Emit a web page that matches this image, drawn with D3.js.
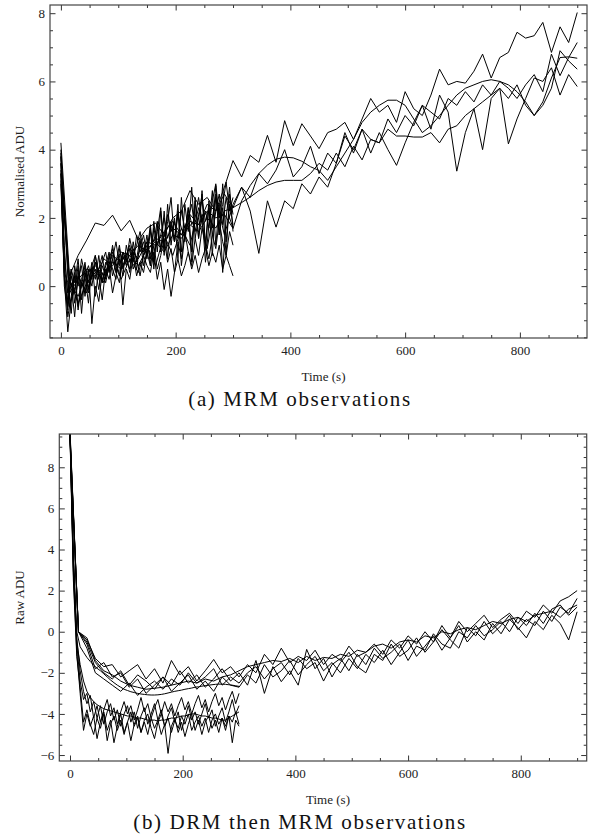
<!DOCTYPE html>
<html>
<head>
<meta charset="utf-8">
<script src="https://cdn.jsdelivr.net/npm/d3@7"></script>
<style>
body { margin: 0; background: #fff; }
svg { display: block; }
.tick text { font-family: "Liberation Serif", serif; font-size: 13px; fill: #222; }
.lbl { font-family: "Liberation Serif", serif; font-size: 13px; fill: #222; }
.cap { font-family: "Liberation Serif", serif; font-size: 21px; letter-spacing: 1.6px; fill: #111; }
</style>
</head>
<body>
<svg id="chart" width="597" height="840"></svg>
<script>
// sampling steps (seconds)
var longStep = 15, shortStep = 6;

// (a) MRM observations - normalised ADU, 0..900 s runs
var mrmLong1 = [4.2,0.3,0.9,1.35,1.85,1.78,2.08,1.62,1.93,1.35,1.7,1.85,1.5,2.0,2.2,2.8,2.4,2.6,2.2,2.9,3.68,3.2,3.83,3.63,4.42,3.63,4.85,4.12,4.76,4.4,4.03,4.5,4.6,4.8,4.3,4.9,5.5,5.1,5.3,4.8,5.7,5.2,5.0,5.6,6.36,5.9,6.0,5.95,6.3,6.8,6.1,6.7,6.85,7.44,7.27,7.34,7.73,6.85,7.6,7.14,8.02];
var mrmLong2 = [3.8,0.1,-0.3,0.4,0.6,0.3,0.9,0.7,1.1,0.8,1.3,1.2,1.6,1.9,1.5,2.1,1.8,2.4,2.2,2.7,2.3,2.9,2.6,3.3,3.0,3.4,4.0,3.2,3.5,4.1,3.3,3.9,3.6,4.4,4.0,4.6,4.3,4.2,4.9,4.5,5.0,4.7,5.3,5.1,4.9,5.5,5.3,5.7,5.4,5.9,5.6,6.0,5.8,5.5,5.9,6.2,5.7,6.8,6.17,6.7,7.14];
var mrmLong3 = [3.6,-0.2,0.2,0.5,0.3,0.8,0.6,1.0,0.9,1.2,1.0,1.4,1.3,1.7,1.5,1.9,1.8,2.2,2.0,2.1,1.69,2.5,2.95,3.3,3.55,3.72,3.78,3.76,3.66,3.5,3.39,3.1,3.5,3.9,4.3,4.8,5.1,5.3,5.45,5.45,5.3,4.9,4.5,4.7,5.0,5.3,5.6,5.8,5.9,6.0,6.05,6.0,5.9,5.7,5.4,5.0,5.3,5.8,6.9,6.6,6.36];
var mrmLong4 = [3.3,0.2,-0.5,0.1,0.4,0.2,0.7,0.5,0.9,0.6,1.1,1.3,1.0,1.5,1.4,1.8,1.6,2.0,1.7,2.2,2.3,2.45,2.61,2.8,2.95,3.05,3.1,3.1,3.1,3.3,3.6,3.4,3.9,3.5,4.1,3.7,4.3,4.2,4.6,4.4,4.4,4.37,4.37,4.5,4.2,4.6,4.7,5.0,5.2,5.4,5.6,5.8,5.5,5.9,5.3,5.0,5.4,6.1,6.7,6.72,6.68];
var mrmLong5 = [3.9,-0.6,0.3,-0.2,0.7,0.1,1.0,0.2,0.8,0.4,1.2,0.6,1.5,0.9,1.7,1.2,2.3,1.1,2.6,1.5,2.4,2.9,2.2,0.96,2.5,1.73,2.5,2.27,3.0,2.7,3.2,2.9,3.6,4.5,3.9,4.6,3.9,4.5,4.0,3.54,4.2,4.8,5.3,4.6,5.6,5.1,3.37,4.5,5.2,4.0,5.5,5.8,4.17,4.9,5.5,6.1,6.0,6.4,5.6,6.2,5.85];

// (a) short 0..300 s runs
var mrmShort1 = [4.0,1.2,-0.5,0.3,-0.2,0.6,-0.8,0.4,0.1,0.7,-0.3,0.5,0.9,0.2,0.8,1.1,0.4,0.9,0.3,1.2,0.7,1.0,0.5,1.3,0.9,1.5,0.6,1.9,1.0,2.2,0.9,2.4,1.2,2.0,0.8,2.6,1.3,2.1,0.7,2.5,1.4,2.8,1.1,2.3,0.9,2.7,1.5,3.0,1.3,2.4,1.8];
var mrmShort2 = [3.6,0.6,-0.9,-0.3,0.4,-0.6,0.2,0.7,-0.1,0.5,0.2,0.9,0.1,0.6,1.0,0.3,0.7,1.2,0.5,0.9,0.4,1.1,0.8,1.4,0.6,1.0,1.8,0.7,1.6,2.3,1.1,1.9,2.6,1.3,2.2,1.0,2.4,1.6,2.9,1.4,2.0,2.7,1.2,2.5,1.7,2.95,1.5,2.3,0.9,2.7,2.1];
var mrmShort3 = [3.3,0.2,-1.34,-0.4,0.3,-0.7,0.1,-0.2,0.5,-1.1,0.0,-0.45,0.4,0.1,0.6,-0.2,0.3,0.8,-0.55,0.5,0.2,0.9,0.3,0.7,0.4,1.0,0.6,1.2,0.5,0.9,1.4,0.7,1.1,0.4,1.3,0.8,1.6,1.0,0.6,1.4,0.9,1.7,1.2,0.8,1.5,1.1,1.9,1.3,0.9,1.6,1.2];
var mrmShort4 = [3.8,0.9,-0.2,0.5,-0.5,0.2,0.6,-0.3,0.4,0.0,0.7,0.3,-0.4,0.5,0.2,0.8,0.4,0.1,0.9,0.6,1.1,0.5,0.8,0.3,0.9,0.6,0.4,1.0,0.2,0.7,-0.1,0.5,-0.3,0.4,0.8,0.3,0.6,1.0,0.5,0.9,0.4,0.8,1.1,0.6,1.0,0.7,1.2,0.5,0.9,0.6,0.3];
var mrmShort5 = [3.1,0.4,0.1,-0.8,0.6,0.0,0.8,0.3,-0.5,0.6,0.9,0.2,0.7,1.0,0.4,0.8,1.3,0.6,1.0,0.7,1.4,0.9,1.2,1.6,1.0,1.3,0.8,1.7,1.2,1.5,2.0,1.4,1.8,1.3,2.1,1.7,1.4,2.3,1.8,2.0,2.6,1.9,2.2,1.7,2.5,3.0,2.0,2.4,3.05,2.2,2.6];
var mrmShort6 = [3.4,0.0,-0.7,0.5,0.1,0.8,-0.4,0.3,0.6,0.2,0.9,0.4,0.1,0.7,0.5,1.2,0.6,0.3,1.0,0.8,0.5,1.3,0.7,1.1,1.5,0.9,1.7,0.5,1.8,1.0,2.2,0.8,1.9,1.3,2.4,0.6,1.5,2.3,1.0,2.6,1.4,2.1,0.7,1.8,2.8,1.2,2.4,0.4,2.0,2.9,1.6];
var mrmShort7 = [3.0,0.3,-0.6,0.1,-0.9,0.4,0.0,0.6,-0.2,0.3,0.5,-0.1,0.6,0.3,0.9,0.5,0.2,1.1,0.6,0.9,1.2,0.7,1.5,1.0,1.3,0.8,1.6,1.3,1.9,1.1,1.5,2.1,1.6,1.9,1.4,2.2,1.7,2.0,2.4,1.6,2.1,2.5,1.9,2.3,1.5,2.2,2.7,1.8,2.6,2.0,1.7];

// (b) DRM then MRM - raw ADU, 0..900 s runs
var drmLong1 = [9.8,0.0,-0.4,-1.3,-1.7,-1.6,-2.2,-1.9,-1.6,-2.3,-1.8,-2.5,-1.4,-2.1,-1.7,-2.4,-1.9,-1.35,-2.0,-1.7,-2.2,-1.6,-2.0,-1.1,-1.6,-0.8,-1.5,-1.2,-1.4,-0.9,-1.6,-1.1,-1.4,-0.7,-1.2,-1.0,-0.6,-1.1,-0.4,-0.8,-0.2,-0.6,0.0,-0.5,0.3,-0.3,0.5,0.0,0.4,0.8,0.2,0.6,0.9,0.4,1.0,0.7,1.3,0.9,1.5,1.7,2.0];
var drmLong2 = [9.6,0.0,-0.5,-1.5,-2.0,-2.3,-1.9,-2.6,-2.1,-2.4,-2.8,-2.2,-2.6,-1.9,-2.5,-2.1,-2.7,-2.3,-1.8,-2.4,-2.0,-2.6,-1.4,-3.0,-1.7,-2.43,-1.9,-2.6,-0.86,-1.8,-1.3,-2.2,-1.5,-1.0,-1.7,-2.0,-1.1,-1.4,-0.6,-1.2,-0.9,-0.3,-1.0,-0.5,0.1,-0.4,-0.8,0.2,-0.2,0.5,-0.1,0.3,0.8,0.1,0.6,0.3,1.0,0.5,1.2,0.9,1.62];
var drmLong3 = [9.7,0.0,-0.3,-1.4,-1.9,-2.1,-2.4,-2.6,-2.7,-2.8,-2.75,-2.7,-2.6,-2.5,-2.4,-2.5,-2.3,-2.4,-2.2,-2.1,-1.9,-1.7,-1.6,-1.5,-1.4,-1.45,-1.3,-1.5,-1.2,-1.4,-1.25,-1.3,-1.1,-1.2,-0.9,-1.0,-0.7,-0.6,-0.8,-0.5,-0.4,-0.5,-0.2,-0.3,0.0,-0.1,0.1,0.2,0.1,0.3,0.5,0.4,0.6,0.7,0.5,0.8,0.9,1.0,0.7,1.1,1.3];
var drmLong4 = [9.4,0.0,-0.6,-1.8,-1.5,-2.2,-2.0,-2.7,-2.3,-3.0,-2.6,-2.2,-2.9,-2.5,-2.1,-2.8,-2.4,-2.9,-2.2,-2.6,-2.7,-2.1,-2.5,-1.6,-2.2,-1.9,-1.4,-2.1,-1.6,-1.2,-1.9,-1.5,-2.0,-1.3,-1.8,-1.1,-1.5,-0.9,-1.6,-1.0,-0.4,-1.2,-0.7,-0.2,-0.9,-0.3,0.3,-0.5,0.0,-0.4,0.4,-0.1,0.6,0.2,-0.3,0.5,0.1,0.8,0.4,-0.4,0.97];
var drmLong5 = [9.5,0.0,-0.8,-2.0,-2.3,-2.6,-2.9,-2.5,-3.1,-2.7,-2.4,-2.8,-2.3,-2.6,-2.0,-2.5,-2.2,-1.8,-2.6,-2.2,-2.5,-2.0,-1.7,-2.3,-1.8,-1.5,-2.1,-1.3,-1.8,-1.5,-2.4,-1.6,-1.3,-1.9,-1.1,-1.6,-0.8,-1.3,-1.0,-0.6,-1.4,-0.7,-0.9,-0.1,-0.6,-0.8,0.0,-0.3,0.3,-0.2,0.1,0.5,0.0,0.7,0.3,0.9,0.4,1.1,1.3,0.8,1.2];

// (b) short 0..300 s runs
var drmShort1 = [9.8,3.5,-0.6,-2.4,-3.3,-3.0,-3.9,-3.4,-4.2,-3.6,-4.5,-3.9,-3.5,-4.3,-3.8,-4.6,-4.0,-3.6,-4.4,-3.9,-4.7,-4.1,-3.7,-4.5,-4.0,-3.5,-4.3,-3.8,-4.6,-4.1,-3.7,-4.4,-3.9,-4.8,-4.2,-3.6,-4.3,-3.9,-4.5,-4.0,-3.5,-4.2,-3.8,-4.6,-4.1,-3.7,-4.4,-3.9,-3.3,-4.0,-3.6];
var drmShort2 = [9.6,2.8,-1.0,-3.0,-4.8,-4.0,-4.6,-4.1,-5.2,-4.4,-3.9,-4.8,-4.3,-5.4,-4.6,-4.0,-4.9,-4.4,-5.3,-4.5,-4.1,-4.9,-4.4,-5.0,-4.2,-4.7,-4.3,-5.0,-4.5,-5.92,-4.6,-4.2,-4.9,-4.4,-5.1,-4.5,-4.0,-4.8,-4.3,-5.0,-4.4,-4.1,-4.7,-4.3,-4.9,-4.2,-4.6,-4.1,-5.4,-4.3,-4.6];
var drmShort3 = [9.7,3.0,-0.3,-1.9,-2.9,-3.5,-3.1,-4.2,-3.6,-4.4,-3.8,-3.3,-4.1,-3.7,-4.5,-3.9,-3.4,-4.0,-3.6,-4.3,-3.8,-3.2,-3.9,-3.5,-4.2,-3.7,-3.3,-4.0,-3.4,-3.9,-3.5,-4.1,-3.6,-3.2,-3.8,-3.4,-4.0,-3.5,-3.1,-3.7,-3.3,-3.9,-3.4,-3.0,-3.6,-3.2,-3.8,-3.3,-2.9,-3.5,-3.0];
var drmShort4 = [9.5,2.5,-1.2,-2.7,-4.4,-3.8,-4.5,-5.0,-4.2,-4.7,-4.0,-5.3,-4.5,-4.1,-4.8,-4.3,-5.0,-4.4,-3.9,-4.6,-4.2,-4.9,-4.3,-4.0,-4.7,-5.2,-4.4,-4.0,-4.6,-4.2,-4.9,-4.3,-4.7,-4.1,-4.5,-4.0,-4.8,-4.4,-4.1,-4.6,-4.2,-4.9,-4.3,-4.0,-4.5,-4.2,-4.8,-4.1,-4.4,-3.9,-4.5];
var drmShort5 = [9.8,4.0,0.0,-0.73,-1.0,-1.25,-1.45,-1.62,-1.78,-1.9,-2.05,-2.2,-2.35,-2.48,-2.6,-2.7,-2.8,-2.86,-2.92,-2.96,-3.0,-3.03,-3.05,-3.07,-3.08,-3.08,-3.07,-3.05,-3.02,-2.98,-2.94,-2.9,-2.87,-2.84,-2.8,-2.77,-2.74,-2.7,-2.68,-2.65,-2.62,-2.6,-2.58,-2.56,-2.55,-2.55,-2.56,-2.58,-2.6,-2.63,-2.66];
var drmShort6 = [9.6,3.2,-0.5,-1.6,-2.4,-2.9,-3.2,-3.4,-3.55,-3.65,-3.75,-3.8,-3.85,-3.9,-3.95,-4.0,-4.05,-4.1,-4.1,-4.15,-4.2,-4.2,-4.25,-4.3,-4.3,-4.3,-4.35,-4.3,-4.3,-4.25,-4.2,-4.2,-4.15,-4.1,-4.1,-4.05,-4.0,-4.0,-4.05,-4.1,-4.1,-4.15,-4.2,-4.2,-4.25,-4.3,-4.3,-4.2,-4.1,-4.0,-3.9];

// axis ticks
var xMajor = [0, 200, 400, 600, 800];
var xMinor = [50, 100, 150, 250, 300, 350, 450, 500, 550, 650, 700, 750, 850, 900];
var yMajorA = [0, 2, 4, 6, 8];
var yMajorB = [-6, -4, -2, 0, 2, 4, 6, 8];

var svg = d3.select("#chart");

function plot_panel(p) {
	var x = d3.scaleLinear().domain([-19, 917]).range([p.left, p.right]);
	var y = d3.scaleLinear().domain(p.yDomain).range([p.bottom, p.top]);

	var g = svg.append("g");

	var clipId = "clip-" + p.id;
	g.append("clipPath").attr("id", clipId)
		.append("rect")
		.attr("x", p.left).attr("y", p.top)
		.attr("width", p.right - p.left).attr("height", p.bottom - p.top);

	var yMinor = d3.range(Math.ceil(p.yDomain[0] * 2) / 2, p.yDomain[1], 0.5)
		.filter(function(v) { return p.yMajor.indexOf(v) < 0; });

	var majorLen = 5.5, minorLen = 3;

	// bottom axis with labels
	g.append("g")
		.attr("transform", "translate(0," + p.bottom + ")")
		.call(d3.axisBottom(x).tickValues(xMajor).tickSizeInner(-majorLen).tickSizeOuter(0).tickPadding(8));
	g.append("g")
		.attr("transform", "translate(0," + p.bottom + ")")
		.call(d3.axisBottom(x).tickValues(xMinor).tickSizeInner(-minorLen).tickSizeOuter(0).tickFormat(""));
	// top
	g.append("g")
		.attr("transform", "translate(0," + p.top + ")")
		.call(d3.axisTop(x).tickValues(xMajor).tickSizeInner(-majorLen).tickSizeOuter(0).tickFormat(""));
	g.append("g")
		.attr("transform", "translate(0," + p.top + ")")
		.call(d3.axisTop(x).tickValues(xMinor).tickSizeInner(-minorLen).tickSizeOuter(0).tickFormat(""));
	// left with labels
	g.append("g")
		.attr("transform", "translate(" + p.left + ",0)")
		.call(d3.axisLeft(y).tickValues(p.yMajor).tickSizeInner(-majorLen).tickSizeOuter(0).tickPadding(5));
	g.append("g")
		.attr("transform", "translate(" + p.left + ",0)")
		.call(d3.axisLeft(y).tickValues(yMinor).tickSizeInner(-minorLen).tickSizeOuter(0).tickFormat(""));
	// right
	g.append("g")
		.attr("transform", "translate(" + p.right + ",0)")
		.call(d3.axisRight(y).tickValues(p.yMajor).tickSizeInner(-majorLen).tickSizeOuter(0).tickFormat(""));
	g.append("g")
		.attr("transform", "translate(" + p.right + ",0)")
		.call(d3.axisRight(y).tickValues(yMinor).tickSizeInner(-minorLen).tickSizeOuter(0).tickFormat(""));

	g.selectAll(".domain").remove();
	g.selectAll(".tick line").attr("stroke", "#333").attr("stroke-width", 1);

	// data lines
	var lines = g.append("g").attr("clip-path", "url(#" + clipId + ")");
	p.series.forEach(function(s) {
		var line = d3.line()
			.x(function(d, i) { return x(i * s.step); })
			.y(function(d) { return y(d); });
		lines.append("path")
			.datum(s.values)
			.attr("fill", "none")
			.attr("stroke", "#000")
			.attr("stroke-width", 1)
			.attr("stroke-linejoin", "miter")
			.attr("d", line);
	});

	// frame
	g.append("rect")
		.attr("x", p.left).attr("y", p.top)
		.attr("width", p.right - p.left).attr("height", p.bottom - p.top)
		.attr("fill", "none").attr("stroke", "#444").attr("stroke-width", 1.2);

	// labels
	g.append("text").attr("class", "lbl")
		.attr("x", (p.left + p.right) / 2 + 5).attr("y", p.bottom + 43)
		.attr("text-anchor", "middle")
		.text("Time (s)");
	g.append("text").attr("class", "lbl")
		.attr("transform", "translate(24," + ((p.top + p.bottom) / 2) + ") rotate(-90)")
		.attr("text-anchor", "middle")
		.text(p.ylabel);
	g.append("text").attr("class", "cap")
		.attr("x", 300).attr("y", p.bottom + 67.5)
		.attr("text-anchor", "middle")
		.text(p.caption);
}

function runs(longs, shorts) {
	return longs.map(function(v) { return {values: v, step: longStep}; })
		.concat(shorts.map(function(v) { return {values: v, step: shortStep}; }));
}

plot_panel({
	id: "a", left: 50, right: 587, top: 5, bottom: 338,
	yDomain: [-1.52, 8.24], yMajor: yMajorA,
	ylabel: "Normalised ADU", caption: "(a) MRM observations",
	series: runs([mrmLong1, mrmLong2, mrmLong3, mrmLong4, mrmLong5],
		[mrmShort1, mrmShort2, mrmShort3, mrmShort4, mrmShort5, mrmShort6, mrmShort7])
});

plot_panel({
	id: "b", left: 59.3, right: 586.7, top: 434, bottom: 761,
	yDomain: [-6.29, 9.62], yMajor: yMajorB,
	ylabel: "Raw ADU", caption: "(b) DRM then MRM observations",
	series: runs([drmLong1, drmLong2, drmLong3, drmLong4, drmLong5],
		[drmShort1, drmShort2, drmShort3, drmShort4, drmShort5, drmShort6])
});
</script>
</body>
</html>
